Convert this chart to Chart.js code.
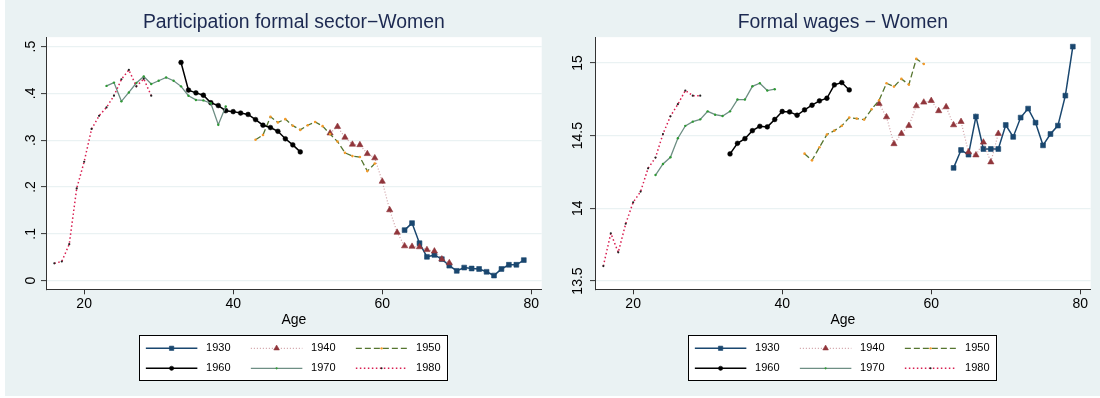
<!DOCTYPE html>
<html>
<head>
<meta charset="utf-8">
<script src="https://cdn.jsdelivr.net/npm/chart.js@4/dist/chart.umd.min.js"></script>
<style>
  html, body { margin: 0; padding: 0; background: #ffffff; width: 1100px; height: 398px; overflow: hidden; }
  #graphregion { position: absolute; left: 5px; top: 0; width: 1095px; height: 396px; background: #eaf2f3; }
  canvas { position: absolute; top: 0; }
  #partChart { left: 0; }
  #wageChart { left: 549px; }
</style>
</head>
<body>
<div id="graphregion"></div>
<canvas id="partChart" width="550" height="398"></canvas>
<canvas id="wageChart" width="550" height="398"></canvas>
<script>
// Birth cohorts
const cohorts = ['1930', '1940', '1950', '1960', '1970', '1980'];

// Ages observed for each cohort
const ages1930 = [63, 64, 65, 66, 67, 68, 69, 70, 71, 72, 73, 74, 75, 76, 77, 78, 79];
const ages1940 = [53, 54, 55, 56, 57, 58, 59, 60, 61, 62, 63, 64, 65, 66, 67, 68, 69];
const ages1950 = [43, 44, 45, 46, 47, 48, 49, 50, 51, 52, 53, 54, 55, 56, 57, 58, 59];
const ages1960 = [33, 34, 35, 36, 37, 38, 39, 40, 41, 42, 43, 44, 45, 46, 47, 48, 49];
const ages1970 = [23, 24, 25, 26, 27, 28, 29, 30, 31, 32, 33, 34, 35, 36, 37, 38, 39];
const ages1980 = [16, 17, 18, 19, 20, 21, 22, 23, 24, 25, 26, 27, 28, 29];

// Share of women in formal employment, by cohort
const partic1930 = [0.108, 0.123, 0.080, 0.051, 0.055, 0.046, 0.032, 0.021, 0.028, 0.026, 0.025, 0.019, 0.011, 0.025, 0.034, 0.034, 0.044];
const partic1940 = [0.315, 0.329, 0.306, 0.291, 0.290, 0.271, 0.262, 0.212, 0.151, 0.103, 0.074, 0.073, 0.072, 0.066, 0.063, 0.046, 0.038];
const partic1950 = [0.301, 0.311, 0.350, 0.338, 0.345, 0.331, 0.322, 0.332, 0.339, 0.330, 0.313, 0.297, 0.273, 0.266, 0.264, 0.234, 0.250];
const partic1960 = [0.466, 0.407, 0.401, 0.396, 0.380, 0.374, 0.363, 0.361, 0.358, 0.355, 0.344, 0.332, 0.327, 0.319, 0.303, 0.290, 0.275];
const partic1970 = [0.416, 0.423, 0.383, 0.402, 0.422, 0.436, 0.420, 0.427, 0.434, 0.427, 0.415, 0.395, 0.386, 0.385, 0.379, 0.333, 0.372];
const partic1980 = [0.037, 0.041, 0.078, 0.197, 0.254, 0.324, 0.352, 0.370, 0.395, 0.430, 0.450, 0.415, 0.431, 0.395];

// Log formal wages of women, by cohort
const wage1930 = [14.278, 14.401, 14.369, 14.631, 14.408, 14.408, 14.408, 14.573, 14.491, 14.624, 14.686, 14.589, 14.433, 14.511, 14.569, 14.775, 15.112];
const wage1940 = [14.720, 14.628, 14.443, 14.514, 14.569, 14.704, 14.729, 14.740, 14.670, 14.697, 14.573, 14.596, 14.387, 14.366, 14.454, 14.318, 14.514];
const wage1950 = [14.376, 14.330, 14.420, 14.507, 14.534, 14.567, 14.624, 14.617, 14.610, 14.681, 14.743, 14.860, 14.837, 14.890, 14.851, 15.028, 14.993];
const wage1960 = [14.374, 14.447, 14.479, 14.534, 14.564, 14.560, 14.611, 14.666, 14.663, 14.640, 14.677, 14.709, 14.739, 14.757, 14.849, 14.865, 14.814];
const wage1970 = [14.229, 14.305, 14.351, 14.482, 14.567, 14.596, 14.612, 14.667, 14.644, 14.635, 14.667, 14.748, 14.748, 14.839, 14.860, 14.810, 14.819];
const wage1980 = [13.603, 13.828, 13.697, 13.894, 14.041, 14.115, 14.275, 14.349, 14.511, 14.633, 14.716, 14.810, 14.775, 14.775];

// Axis ticks and labels
const ageTicks = [20, 40, 60, 80];
const particTicks = [0, 0.1, 0.2, 0.3, 0.4, 0.5];
const particTickLabels = ['0', '.1', '.2', '.3', '.4', '.5'];
const wageTicks = [13.5, 14, 14.5, 15];
const wageTickLabels = ['13.5', '14', '14.5', '15'];

const cohortAges = [ages1930, ages1940, ages1950, ages1960, ages1970, ages1980];
const particSeries = [partic1930, partic1940, partic1950, partic1960, partic1970, partic1980];
const wageSeries = [wage1930, wage1940, wage1950, wage1960, wage1970, wage1980];

const FONT = '"Liberation Sans", Arial, Helvetica, sans-serif';
Chart.defaults.font.family = FONT;

// Line and marker look of each cohort
const cohortStyles = [
  { borderColor: '#1a476f', borderWidth: 1.5, borderDash: [], pointStyle: 'rect', pointRadius: 3.4,
    pointBackgroundColor: '#1a476f', pointBorderColor: '#1a476f', pointBorderWidth: 0.6 },
  { borderColor: 'rgba(175,95,105,0.6)', borderWidth: 1.2, borderDash: [1, 2], pointStyle: 'triangle', pointRadius: 3.6,
    pointBackgroundColor: '#90353b', pointBorderColor: '#90353b', pointBorderWidth: 0.6 },
  { borderColor: '#55752f', borderWidth: 1.3, borderDash: [6, 3], pointStyle: 'circle', pointRadius: 1.3,
    pointBackgroundColor: '#f39a2a', pointBorderColor: '#f39a2a', pointBorderWidth: 0 },
  { borderColor: '#000000', borderWidth: 1.5, borderDash: [], pointStyle: 'circle', pointRadius: 2.4,
    pointBackgroundColor: '#000000', pointBorderColor: '#000000', pointBorderWidth: 0.5 },
  { borderColor: '#6e8e84', borderWidth: 1.3, borderDash: [], pointStyle: 'circle', pointRadius: 1.2,
    pointBackgroundColor: '#2f9a35', pointBorderColor: '#2f9a35', pointBorderWidth: 0 },
  { borderColor: '#d81e50', borderWidth: 1.5, borderDash: [1.5, 2.5], pointStyle: 'circle', pointRadius: 1.1,
    pointBackgroundColor: '#222222', pointBorderColor: '#222222', pointBorderWidth: 0 }
];

function buildDatasets(series) {
  return cohorts.map((label, i) => Object.assign({
    label: label,
    data: cohortAges[i].map((age, j) => ({ x: age, y: series[i][j] })),
    fill: false,
    tension: 0,
    order: cohorts.length - i
  }, cohortStyles[i]));
}

// White plot region behind the data
const plotRegion = {
  id: 'plotRegion',
  beforeDraw(chart) {
    const { ctx, chartArea: a } = chart;
    ctx.save();
    ctx.fillStyle = '#ffffff';
    ctx.fillRect(a.left, a.top, a.right - a.left, a.bottom - a.top);
    ctx.restore();
  }
};

// Boxed legend: three columns, two rows, line sample with its marker
const legendGrid = {
  id: 'legendGrid',
  afterDraw(chart) {
    const { ctx, chartArea: a } = chart;
    const w = 309, h = 46, top = 335;
    const left = (a.left + a.right) / 2 - w / 2;
    ctx.save();
    ctx.fillStyle = '#ffffff';
    ctx.fillRect(left, top, w, h);
    ctx.strokeStyle = '#000000';
    ctx.lineWidth = 1;
    ctx.strokeRect(Math.round(left) + 0.5, top + 0.5, w - 1, h - 1);
    chart.data.datasets.forEach((ds, i) => {
      const col = i % 3, row = Math.floor(i / 3);
      const x0 = left + 6.5 + col * 105, x1 = x0 + 51.5;
      const y = top + 13.3 + row * 20;
      ctx.save();
      ctx.strokeStyle = ds.borderColor;
      ctx.lineWidth = ds.borderWidth;
      ctx.setLineDash(ds.borderDash || []);
      ctx.beginPath();
      ctx.moveTo(x0, y);
      ctx.lineTo(x1, y);
      ctx.stroke();
      ctx.setLineDash([]);
      ctx.fillStyle = ds.pointBackgroundColor;
      ctx.strokeStyle = ds.pointBorderColor;
      ctx.lineWidth = ds.pointBorderWidth;
      Chart.helpers.drawPoint(ctx, {
        pointStyle: ds.pointStyle, radius: ds.pointRadius * 0.9, rotation: 0, borderWidth: ds.pointBorderWidth
      }, (x0 + x1) / 2, y);
      ctx.restore();
      ctx.fillStyle = '#000000';
      ctx.font = '11px ' + FONT;
      ctx.textAlign = 'left';
      ctx.textBaseline = 'middle';
      ctx.fillText(ds.label, left + 66.7 + col * 105, y);
    });
    ctx.restore();
  }
};

function makeChart(canvasId, title, series, yMin, yMax, yTicks, yLabels, yPad) {
  return new Chart(document.getElementById(canvasId), {
    type: 'line',
    data: { datasets: buildDatasets(series) },
    options: {
      responsive: false,
      animation: false,
      devicePixelRatio: 1,
      events: [],
      layout: { padding: { left: 0, right: 8.3, top: 0, bottom: 68.7 } },
      plugins: {
        legend: { display: false },
        tooltip: { enabled: false },
        title: {
          display: true, text: title, fullSize: false, color: '#1c2951',
          font: { size: 19.4, weight: 'normal', family: FONT },
          padding: { top: 11.3, bottom: 2.6 }
        }
      },
      scales: {
        x: {
          type: 'linear', min: 14.88, max: 81.4, bounds: 'data',
          afterBuildTicks: s => { s.ticks = ageTicks.map(v => ({ value: v })); },
          afterFit: s => { s.height = 40; },
          ticks: { color: '#000000', font: { size: 14 }, padding: 1, maxRotation: 0, autoSkip: false,
                   callback: v => String(v) },
          grid: { drawOnChartArea: false, drawTicks: true, tickLength: 5, tickColor: '#333333', tickWidth: 1 },
          border: { display: true, color: '#333333', width: 1 },
          title: { display: true, text: 'Age', color: '#000000', font: { size: 14 }, padding: { top: 0, bottom: 1 } }
        },
        y: {
          type: 'linear', min: yMin, max: yMax, bounds: 'data',
          afterBuildTicks: s => { s.ticks = yTicks.map(v => ({ value: v })); },
          afterFit: s => { s.width = 46; },
          ticks: { color: '#000000', font: { size: 14 }, padding: yPad, minRotation: 90, maxRotation: 90,
                   crossAlign: 'center', autoSkip: false,
                   callback: v => yLabels[yTicks.indexOf(v)] },
          grid: { drawOnChartArea: true, color: '#eaf2f3', lineWidth: 1.2, drawTicks: true, tickLength: 5,
                  tickColor: '#333333', tickWidth: 1 },
          border: { display: true, color: '#333333', width: 1 }
        }
      }
    },
    plugins: [plotRegion, legendGrid]
  });
}

makeChart('partChart', 'Participation formal sector\u2212Women', particSeries,
          -0.0184, 0.520, particTicks, particTickLabels, 3.6);
makeChart('wageChart', 'Formal wages \u2212 Women', wageSeries,
          13.443, 15.177, wageTicks, wageTickLabels, -1.7);
</script>
</body>
</html>
